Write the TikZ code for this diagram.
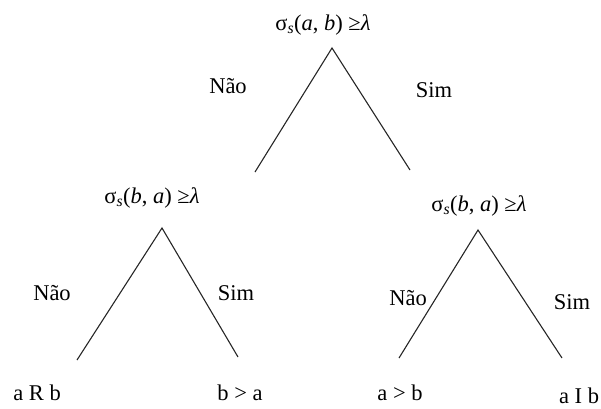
\documentclass[tikz,border=0pt]{standalone}
\usepackage{fontspec}
\setmainfont{Liberation Serif}
\usepackage{tikz}
\usetikzlibrary{positioning}
\newcommand{\cond}[2]{σ\textsubscript{\textit{s}}(\textit{#1}, \textit{#2}) ≥\textit{λ}}

\begin{document}
\begin{tikzpicture}[
  x=1pt, y=-1pt,
  every node/.style={inner sep=0pt, font=\fontsize{22.5}{27}\selectfont},
  leg/.style={line width=1.1pt, draw=black!85}
]
\useasboundingbox (0,0) rectangle (601,408);
% top test
\node (topcond) at (323,25) {\cond{a}{b}};
\coordinate (topapex) at (332,48);
\coordinate (topleft) at (255,172);
\coordinate (topright) at (410,170);
\node (topno) at (228,86) {Não};
\node (topyes) at (434,90) {Sim};
% left test
\node (leftcond) at (152,198) {\cond{b}{a}};
\coordinate (leftapex) at (162,228);
\coordinate (leftleft) at (77,360);
\coordinate (leftright) at (238,357);
\node (leftno) at (52,293) {Não};
\node (leftyes) at (236,293) {Sim};
\node (arb) at (37,393) {a R b};
\node (bgta) at (240,393) {b > a};
% right test
\node (rightcond) at (479,206) {\cond{b}{a}};
\coordinate (rightapex) at (478,230);
\coordinate (rightleft) at (399,358);
\coordinate (rightright) at (562,358);
\node (rightno) at (408,298) {Não};
\node (rightyes) at (572,302) {Sim};
\node (agtb) at (400,393) {a > b};
\node (aib) at (579,396) {a I b};

\draw[leg] (topleft) -- (topapex) -- (topright);
\draw[leg] (leftleft) -- (leftapex) -- (leftright);
\draw[leg] (rightleft) -- (rightapex) -- (rightright);
\end{tikzpicture}
\end{document}
